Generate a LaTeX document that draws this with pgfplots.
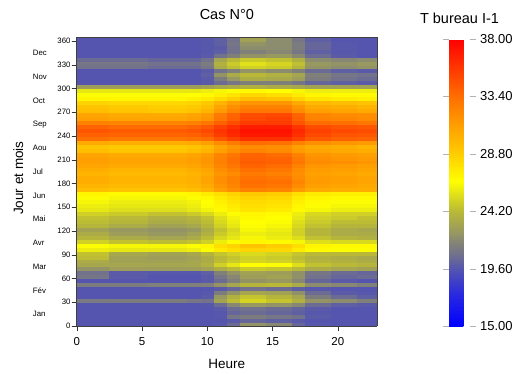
\documentclass[border=0pt]{standalone}
\usepackage{pgfplots}
\pgfplotsset{compat=1.18}
\usepackage{fontspec}
\setmainfont{Liberation Sans}
\begin{document}
\begin{tikzpicture}
\useasboundingbox (-76.7pt,-47pt) rectangle (439.3pt,326pt);
\begin{axis}[
  at={(0pt,0pt)}, anchor=south west,
  scale only axis, width=300.3pt, height=289pt,
  view={0}{90}, axis on top,
  /pgf/number format/assume math mode=true,
  xmin=0, xmax=23, ymin=0, ymax=365,
  xtick={0,5,10,15,20}, ytick={0,30,...,360},
  tick align=outside, xtick pos=left, ytick pos=left,
  major tick length=5pt,
  axis line style={black!75}, tick style={black!80},
  xticklabel style={font=\fontsize{11.5}{13}\selectfont, yshift=-3pt},
  yticklabel style={font=\fontsize{7.8}{9}\selectfont, inner sep=1pt},
  title={Cas N°0},
  title style={at={(axis description cs:0.5,1)}, anchor=base, yshift=12pt, font=\fontsize{14.5}{16}\selectfont},
  xlabel={Heure},
  xlabel style={at={(axis description cs:0.5,0)}, anchor=base, yshift=-42pt, font=\fontsize{13.5}{15}\selectfont},
  ylabel={Jour et mois},
  ylabel style={at={(axis description cs:-0.178,0.512)}, anchor=base, font=\fontsize{13.5}{15}\selectfont},
  extra y ticks={15,45,75,105,135,165,195,225,255,285,315,345},
  extra y tick labels={Jan,Fév,Mar,Avr,Mai,Jun,Jul,Aou,Sep,Oct,Nov,Dec},
  extra y tick style={tick style={draw=none}, tick label style={anchor=west, xshift=-40pt, font=\fontsize{10.5}{12}\selectfont}},
  colormap={tb}{rgb255(150)=(0,0,255) rgb255(175)=(40,40,225) rgb255(196)=(85,85,175) rgb255(206)=(110,110,145) rgb255(216)=(130,130,120) rgb255(224)=(150,150,100) rgb255(242)=(185,185,55) rgb255(256)=(225,225,25) rgb255(266)=(255,255,0) rgb255(288)=(255,205,0) rgb255(310)=(255,160,0) rgb255(334)=(255,110,0) rgb255(380)=(255,0,0)},
  point meta min=15, point meta max=38,
  colorbar,
  colorbar style={
    at={(parent axis.south east)}, anchor=south west, xshift=63.5pt,
    width=21pt, height=287pt,
    ytick={15,19.6,24.2,28.8,33.4,38},
    yticklabel={\pgfmathprintnumber[fixed,fixed zerofill,precision=2,assume math mode=true]{\tick}},
    yticklabel style={font=\fontsize{13}{15}\selectfont, xshift=0.5pt},
    axis line style={draw=none}, tick style={draw=gray!60},
    major tick length=6pt, tick align=outside,
    title={T bureau I-1},
    title style={at={(0.5,1)}, anchor=base, yshift=10pt, font=\fontsize{14.5}{16}\selectfont},
  },
]
\addplot3[surf, shader=flat corner, z buffer=none, mesh/cols=14] table[row sep=\\] {
x y z\\
0 0 19.6\\2.5 0 19.6\\5.5 0 19.6\\8.5 0 19.6\\9.5 0 19.6\\10.5 0 19.7\\11.5 0 20.5\\12.5 0 22.3\\14.5 0 21.8\\16.5 0 20.3\\17.5 0 19.7\\19.5 0 19.6\\21.5 0 19.6\\23 0 19.6\\
0 5 19.6\\2.5 5 19.6\\5.5 5 19.6\\8.5 5 19.6\\9.5 5 19.6\\10.5 5 19.6\\11.5 5 19.8\\12.5 5 20.3\\14.5 5 20.0\\16.5 5 19.8\\17.5 5 19.6\\19.5 5 19.6\\21.5 5 19.6\\23 5 19.6\\
0 10 19.6\\2.5 10 19.6\\5.5 10 19.6\\8.5 10 19.6\\9.5 10 19.6\\10.5 10 19.7\\11.5 10 21.0\\12.5 10 21.3\\14.5 10 21.0\\16.5 10 20.8\\17.5 10 19.8\\19.5 10 19.6\\21.5 10 19.6\\23 10 19.6\\
0 15 19.6\\2.5 15 19.6\\5.5 15 19.6\\8.5 15 19.6\\9.5 15 19.6\\10.5 15 19.7\\11.5 15 20.3\\12.5 15 20.5\\14.5 15 20.3\\16.5 15 20.0\\17.5 15 19.7\\19.5 15 19.6\\21.5 15 19.6\\23 15 19.6\\
0 20 19.6\\2.5 20 19.6\\5.5 20 19.6\\8.5 20 19.6\\9.5 20 19.6\\10.5 20 19.8\\11.5 20 20.5\\12.5 20 20.8\\14.5 20 20.5\\16.5 20 20.2\\17.5 20 19.8\\19.5 20 19.6\\21.5 20 19.6\\23 20 19.6\\
0 25 19.6\\2.5 25 19.6\\5.5 25 19.6\\8.5 25 19.6\\9.5 25 19.7\\10.5 25 20.5\\11.5 25 21.8\\12.5 25 22.5\\14.5 25 22.3\\16.5 25 21.8\\17.5 25 20.5\\19.5 25 20.0\\21.5 25 19.8\\23 25 19.8\\
0 30 21.2\\2.5 30 21.3\\5.5 30 21.3\\8.5 30 21.0\\9.5 30 20.8\\10.5 30 23.0\\11.5 30 24.3\\12.5 30 25.2\\14.5 30 24.6\\16.5 30 23.8\\17.5 30 22.3\\19.5 30 22.0\\21.5 30 21.5\\23 30 21.5\\
0 35 19.6\\2.5 35 19.6\\5.5 35 19.6\\8.5 35 19.6\\9.5 35 19.8\\10.5 35 22.5\\11.5 35 23.8\\12.5 35 24.6\\14.5 35 24.0\\16.5 35 23.2\\17.5 35 21.3\\19.5 35 20.5\\21.5 35 20.0\\23 35 20.0\\
0 40 19.6\\2.5 40 19.6\\5.5 40 19.6\\8.5 40 19.6\\9.5 40 19.7\\10.5 40 21.3\\11.5 40 22.3\\12.5 40 23.2\\14.5 40 23.0\\16.5 40 22.2\\17.5 40 20.5\\19.5 40 19.8\\21.5 40 19.7\\23 40 19.7\\
0 45 19.6\\2.5 45 19.6\\5.5 45 19.6\\8.5 45 19.6\\9.5 45 19.6\\10.5 45 19.8\\11.5 45 20.3\\12.5 45 20.8\\14.5 45 20.5\\16.5 45 20.0\\17.5 45 19.7\\19.5 45 19.6\\21.5 45 19.6\\23 45 19.6\\
0 50 21.3\\2.5 50 21.3\\5.5 50 21.5\\8.5 50 21.5\\9.5 50 21.5\\10.5 50 22.3\\11.5 50 23.2\\12.5 50 24.0\\14.5 50 24.2\\16.5 50 23.5\\17.5 50 22.0\\19.5 50 21.8\\21.5 50 21.5\\23 50 21.5\\
0 55 19.6\\2.5 55 19.6\\5.5 55 19.6\\8.5 55 19.6\\9.5 55 19.8\\10.5 55 20.5\\11.5 55 21.5\\12.5 55 22.3\\14.5 55 22.5\\16.5 55 21.8\\17.5 55 20.3\\19.5 55 19.8\\21.5 55 19.6\\23 55 19.6\\
0 60 21.0\\2.5 60 19.8\\5.5 60 19.6\\8.5 60 19.6\\9.5 60 19.8\\10.5 60 21.0\\11.5 60 21.8\\12.5 60 22.8\\14.5 60 23.0\\16.5 60 22.2\\17.5 60 20.8\\19.5 60 20.3\\21.5 60 20.5\\23 60 20.5\\
0 65 20.8\\2.5 65 19.8\\5.5 65 19.7\\8.5 65 19.7\\9.5 65 20.0\\10.5 65 21.5\\11.5 65 22.3\\12.5 65 23.0\\14.5 65 22.8\\16.5 65 22.2\\17.5 65 21.0\\19.5 65 20.5\\21.5 65 20.3\\23 65 20.3\\
0 70 22.3\\2.5 70 22.8\\5.5 70 22.8\\8.5 70 22.8\\9.5 70 23.0\\10.5 70 23.6\\11.5 70 24.2\\12.5 70 24.8\\14.5 70 24.6\\16.5 70 24.2\\17.5 70 23.5\\19.5 70 23.2\\21.5 70 23.0\\23 70 23.0\\
0 75 23.3\\2.5 75 23.2\\5.5 75 23.2\\8.5 75 23.3\\9.5 75 23.8\\10.5 75 25.0\\11.5 75 25.8\\12.5 75 26.6\\14.5 75 26.5\\16.5 75 25.5\\17.5 75 24.5\\19.5 75 24.2\\21.5 75 24.0\\23 75 24.0\\
0 80 23.5\\2.5 80 23.0\\5.5 80 23.0\\8.5 80 23.2\\9.5 80 23.5\\10.5 80 24.3\\11.5 80 24.8\\12.5 80 25.2\\14.5 80 25.0\\16.5 80 24.6\\17.5 80 24.0\\19.5 80 23.8\\21.5 80 23.6\\23 80 23.6\\
0 85 24.3\\2.5 85 23.0\\5.5 85 22.8\\8.5 85 23.0\\9.5 85 23.5\\10.5 85 24.2\\11.5 85 24.6\\12.5 85 25.0\\14.5 85 24.8\\16.5 85 24.3\\17.5 85 23.8\\19.5 85 23.6\\21.5 85 23.4\\23 85 23.4\\
0 90 24.5\\2.5 90 23.3\\5.5 90 23.0\\8.5 90 23.3\\9.5 90 24.0\\10.5 90 24.6\\11.5 90 25.0\\12.5 90 25.4\\14.5 90 25.1\\16.5 90 24.6\\17.5 90 24.2\\19.5 90 24.2\\21.5 90 24.2\\23 90 24.2\\
0 95 26.0\\2.5 95 25.8\\5.5 95 25.8\\8.5 95 26.0\\9.5 95 26.5\\10.5 95 27.5\\11.5 95 28.0\\12.5 95 28.5\\14.5 95 28.3\\16.5 95 27.5\\17.5 95 26.8\\19.5 95 26.5\\21.5 95 26.5\\23 95 26.5\\
0 100 26.5\\2.5 100 26.3\\5.5 100 26.3\\8.5 100 26.5\\9.5 100 27.0\\10.5 100 28.0\\11.5 100 28.5\\12.5 100 29.3\\14.5 100 28.8\\16.5 100 28.0\\17.5 100 27.0\\19.5 100 26.8\\21.5 100 26.8\\23 100 26.8\\
0 105 25.0\\2.5 105 24.5\\5.5 105 24.3\\8.5 105 24.5\\9.5 105 25.0\\10.5 105 26.0\\11.5 105 26.5\\12.5 105 27.0\\14.5 105 26.8\\16.5 105 26.3\\17.5 105 25.5\\19.5 105 25.3\\21.5 105 25.3\\23 105 25.3\\
0 110 24.0\\2.5 110 23.5\\5.5 110 23.2\\8.5 110 23.5\\9.5 110 24.3\\10.5 110 25.3\\11.5 110 25.8\\12.5 110 26.3\\14.5 110 26.0\\16.5 110 25.5\\17.5 110 24.5\\19.5 110 24.0\\21.5 110 23.8\\23 110 23.8\\
0 115 23.5\\2.5 115 22.8\\5.5 115 22.5\\8.5 115 23.0\\9.5 115 23.8\\10.5 115 24.8\\11.5 115 25.5\\12.5 115 26.0\\14.5 115 25.8\\16.5 115 25.0\\17.5 115 24.0\\19.5 115 23.5\\21.5 115 23.5\\23 115 23.5\\
0 120 23.0\\2.5 120 22.5\\5.5 120 22.3\\8.5 120 22.5\\9.5 120 23.5\\10.5 120 24.5\\11.5 120 25.3\\12.5 120 26.3\\14.5 120 26.0\\16.5 120 25.0\\17.5 120 24.0\\19.5 120 23.5\\21.5 120 23.3\\23 120 23.3\\
0 125 24.0\\2.5 125 23.5\\5.5 125 23.0\\8.5 125 23.3\\9.5 125 24.0\\10.5 125 25.0\\11.5 125 25.8\\12.5 125 26.5\\14.5 125 26.3\\16.5 125 25.3\\17.5 125 24.5\\19.5 125 24.0\\21.5 125 24.0\\23 125 24.0\\
0 130 24.3\\2.5 130 24.0\\5.5 130 23.5\\8.5 130 23.8\\9.5 130 24.3\\10.5 130 25.3\\11.5 130 26.0\\12.5 130 26.6\\14.5 130 26.5\\16.5 130 25.5\\17.5 130 24.8\\19.5 130 24.3\\21.5 130 24.3\\23 130 24.3\\
0 135 24.5\\2.5 135 24.2\\5.5 135 23.8\\8.5 135 24.0\\9.5 135 24.5\\10.5 135 25.5\\11.5 135 26.2\\12.5 135 26.8\\14.5 135 26.6\\16.5 135 25.8\\17.5 135 25.0\\19.5 135 24.8\\21.5 135 24.5\\23 135 24.5\\
0 140 25.0\\2.5 140 24.8\\5.5 140 24.5\\8.5 140 24.8\\9.5 140 25.3\\10.5 140 26.0\\11.5 140 26.5\\12.5 140 27.0\\14.5 140 26.8\\16.5 140 26.0\\17.5 140 25.3\\19.5 140 25.0\\21.5 140 25.0\\23 140 25.0\\
0 145 25.8\\2.5 145 25.5\\5.5 145 25.5\\8.5 145 25.8\\9.5 145 26.2\\10.5 145 26.8\\11.5 145 27.3\\12.5 145 27.8\\14.5 145 27.5\\16.5 145 26.8\\17.5 145 26.3\\19.5 145 26.0\\21.5 145 26.0\\23 145 26.0\\
0 150 26.0\\2.5 150 25.8\\5.5 150 25.8\\8.5 150 26.0\\9.5 150 26.5\\10.5 150 27.0\\11.5 150 27.5\\12.5 150 28.0\\14.5 150 27.8\\16.5 150 27.0\\17.5 150 26.5\\19.5 150 26.3\\21.5 150 26.3\\23 150 26.3\\
0 155 26.3\\2.5 155 26.0\\5.5 155 26.0\\8.5 155 26.2\\9.5 155 26.6\\10.5 155 27.2\\11.5 155 27.8\\12.5 155 28.2\\14.5 155 28.0\\16.5 155 27.3\\17.5 155 26.8\\19.5 155 26.5\\21.5 155 26.5\\23 155 26.5\\
0 160 26.5\\2.5 160 26.3\\5.5 160 26.3\\8.5 160 26.5\\9.5 160 26.8\\10.5 160 27.5\\11.5 160 28.0\\12.5 160 28.5\\14.5 160 28.3\\16.5 160 27.5\\17.5 160 27.0\\19.5 160 26.8\\21.5 160 26.8\\23 160 26.8\\
0 165 27.0\\2.5 165 26.8\\5.5 165 26.8\\8.5 165 27.0\\9.5 165 27.5\\10.5 165 28.0\\11.5 165 28.5\\12.5 165 29.0\\14.5 165 28.8\\16.5 165 28.0\\17.5 165 27.5\\19.5 165 27.3\\21.5 165 27.3\\23 165 27.3\\
0 170 29.5\\2.5 170 29.3\\5.5 170 29.3\\8.5 170 29.5\\9.5 170 30.0\\10.5 170 31.0\\11.5 170 31.8\\12.5 170 32.5\\14.5 170 32.3\\16.5 170 31.3\\17.5 170 30.5\\19.5 170 30.3\\21.5 170 30.3\\23 170 30.3\\
0 175 30.0\\2.5 175 29.8\\5.5 175 29.8\\8.5 175 30.0\\9.5 175 30.5\\10.5 175 31.5\\11.5 175 32.3\\12.5 175 33.2\\14.5 175 33.0\\16.5 175 32.0\\17.5 175 31.0\\19.5 175 30.8\\21.5 175 30.5\\23 175 30.5\\
0 180 30.3\\2.5 180 30.0\\5.5 180 30.0\\8.5 180 30.2\\9.5 180 30.8\\10.5 180 31.8\\11.5 180 32.5\\12.5 180 33.5\\14.5 180 33.3\\16.5 180 32.3\\17.5 180 31.3\\19.5 180 31.0\\21.5 180 30.8\\23 180 30.8\\
0 185 30.3\\2.5 185 30.0\\5.5 185 30.0\\8.5 185 30.2\\9.5 185 30.8\\10.5 185 31.8\\11.5 185 32.5\\12.5 185 33.2\\14.5 185 33.0\\16.5 185 32.0\\17.5 185 31.2\\19.5 185 31.0\\21.5 185 30.8\\23 185 30.8\\
0 190 30.0\\2.5 190 29.8\\5.5 190 29.8\\8.5 190 30.0\\9.5 190 30.5\\10.5 190 31.5\\11.5 190 32.0\\12.5 190 32.8\\14.5 190 32.5\\16.5 190 31.8\\17.5 190 31.0\\19.5 190 30.8\\21.5 190 30.5\\23 190 30.5\\
0 195 30.3\\2.5 195 30.0\\5.5 195 30.0\\8.5 195 30.3\\9.5 195 30.8\\10.5 195 31.8\\11.5 195 32.5\\12.5 195 33.3\\14.5 195 33.0\\16.5 195 32.0\\17.5 195 31.2\\19.5 195 31.0\\21.5 195 30.8\\23 195 30.8\\
0 200 30.8\\2.5 200 30.5\\5.5 200 30.5\\8.5 200 30.8\\9.5 200 31.3\\10.5 200 32.3\\11.5 200 33.0\\12.5 200 33.8\\14.5 200 33.5\\16.5 200 32.5\\17.5 200 31.5\\19.5 200 31.3\\21.5 200 31.0\\23 200 31.0\\
0 205 31.0\\2.5 205 30.8\\5.5 205 30.8\\8.5 205 31.0\\9.5 205 31.5\\10.5 205 32.5\\11.5 205 33.3\\12.5 205 34.2\\14.5 205 34.0\\16.5 205 33.0\\17.5 205 32.0\\19.5 205 31.8\\21.5 205 31.5\\23 205 31.5\\
0 210 31.0\\2.5 210 30.8\\5.5 210 30.8\\8.5 210 31.0\\9.5 210 31.5\\10.5 210 32.5\\11.5 210 33.3\\12.5 210 34.0\\14.5 210 33.8\\16.5 210 32.8\\17.5 210 31.8\\19.5 210 31.5\\21.5 210 31.3\\23 210 31.3\\
0 215 30.8\\2.5 215 30.5\\5.5 215 30.5\\8.5 215 30.8\\9.5 215 31.3\\10.5 215 32.3\\11.5 215 33.0\\12.5 215 33.8\\14.5 215 33.5\\16.5 215 32.5\\17.5 215 31.5\\19.5 215 31.3\\21.5 215 31.0\\23 215 31.0\\
0 220 29.5\\2.5 220 29.2\\5.5 220 29.2\\8.5 220 29.5\\9.5 220 30.0\\10.5 220 31.0\\11.5 220 31.8\\12.5 220 32.3\\14.5 220 32.0\\16.5 220 31.3\\17.5 220 30.8\\19.5 220 30.5\\21.5 220 30.3\\23 220 30.3\\
0 225 29.3\\2.5 225 29.0\\5.5 225 29.0\\8.5 225 29.3\\9.5 225 29.8\\10.5 225 30.8\\11.5 225 31.5\\12.5 225 32.0\\14.5 225 31.8\\16.5 225 31.0\\17.5 225 30.5\\19.5 225 30.3\\21.5 225 30.0\\23 225 30.0\\
0 230 30.5\\2.5 230 30.3\\5.5 230 30.3\\8.5 230 30.5\\9.5 230 31.0\\10.5 230 32.0\\11.5 230 32.8\\12.5 230 33.5\\14.5 230 33.3\\16.5 230 32.5\\17.5 230 31.8\\19.5 230 31.5\\21.5 230 31.3\\23 230 31.3\\
0 235 33.3\\2.5 235 33.0\\5.5 235 33.0\\8.5 235 33.2\\9.5 235 33.5\\10.5 235 34.5\\11.5 235 35.3\\12.5 235 36.0\\14.5 235 36.0\\16.5 235 35.3\\17.5 235 34.3\\19.5 235 34.0\\21.5 235 33.8\\23 235 33.8\\
0 240 34.0\\2.5 240 33.8\\5.5 240 33.8\\8.5 240 34.0\\9.5 240 34.5\\10.5 240 35.5\\11.5 240 36.3\\12.5 240 37.0\\14.5 240 37.0\\16.5 240 36.0\\17.5 240 35.0\\19.5 240 34.5\\21.5 240 34.3\\23 240 34.3\\
0 245 34.5\\2.5 245 34.2\\5.5 245 34.2\\8.5 245 34.5\\9.5 245 35.0\\10.5 245 35.8\\11.5 245 36.5\\12.5 245 37.3\\14.5 245 37.2\\16.5 245 36.3\\17.5 245 35.3\\19.5 245 35.0\\21.5 245 34.8\\23 245 34.8\\
0 250 33.8\\2.5 250 33.5\\5.5 250 33.5\\8.5 250 33.8\\9.5 250 34.3\\10.5 250 35.3\\11.5 250 36.0\\12.5 250 36.8\\14.5 250 36.8\\16.5 250 35.8\\17.5 250 34.8\\19.5 250 34.5\\21.5 250 34.3\\23 250 34.3\\
0 255 32.5\\2.5 255 32.3\\5.5 255 32.3\\8.5 255 32.5\\9.5 255 33.0\\10.5 255 34.0\\11.5 255 34.8\\12.5 255 35.5\\14.5 255 35.5\\16.5 255 34.5\\17.5 255 33.5\\19.5 255 33.3\\21.5 255 33.0\\23 255 33.0\\
0 260 31.0\\2.5 260 30.8\\5.5 260 30.8\\8.5 260 31.0\\9.5 260 31.5\\10.5 260 33.0\\11.5 260 34.0\\12.5 260 35.0\\14.5 260 35.3\\16.5 260 34.0\\17.5 260 32.5\\19.5 260 32.3\\21.5 260 32.0\\23 260 32.0\\
0 265 30.8\\2.5 265 30.5\\5.5 265 30.5\\8.5 265 30.8\\9.5 265 31.3\\10.5 265 32.8\\11.5 265 33.8\\12.5 265 34.8\\14.5 265 35.0\\16.5 265 33.8\\17.5 265 32.3\\19.5 265 32.0\\21.5 265 31.8\\23 265 31.8\\
0 270 29.5\\2.5 270 29.2\\5.5 270 29.0\\8.5 270 29.3\\9.5 270 30.0\\10.5 270 31.3\\11.5 270 32.3\\12.5 270 33.0\\14.5 270 33.0\\16.5 270 32.0\\17.5 270 31.0\\19.5 270 30.8\\21.5 270 30.5\\23 270 30.5\\
0 275 29.3\\2.5 275 29.0\\5.5 275 28.8\\8.5 275 29.0\\9.5 275 29.5\\10.5 275 30.8\\11.5 275 31.8\\12.5 275 32.5\\14.5 275 32.5\\16.5 275 31.5\\17.5 275 30.5\\19.5 275 30.3\\21.5 275 30.0\\23 275 30.0\\
0 280 28.5\\2.5 280 28.3\\5.5 280 28.3\\8.5 280 28.5\\9.5 280 29.0\\10.5 280 30.0\\11.5 280 31.0\\12.5 280 31.5\\14.5 280 31.5\\16.5 280 30.5\\17.5 280 29.8\\19.5 280 29.5\\21.5 280 29.3\\23 280 29.3\\
0 285 27.0\\2.5 285 27.0\\5.5 285 27.0\\8.5 285 27.2\\9.5 285 27.5\\10.5 285 28.2\\11.5 285 28.8\\12.5 285 29.5\\14.5 285 29.3\\16.5 285 28.5\\17.5 285 27.8\\19.5 285 27.5\\21.5 285 27.3\\23 285 27.3\\
0 290 26.5\\2.5 290 26.5\\5.5 290 26.5\\8.5 290 26.6\\9.5 290 26.8\\10.5 290 27.3\\11.5 290 27.8\\12.5 290 28.3\\14.5 290 28.0\\16.5 290 27.5\\17.5 290 27.0\\19.5 290 26.8\\21.5 290 26.8\\23 290 26.8\\
0 295 25.8\\2.5 295 25.8\\5.5 295 25.8\\8.5 295 25.8\\9.5 295 26.0\\10.5 295 26.3\\11.5 295 26.5\\12.5 295 26.8\\14.5 295 26.6\\16.5 295 26.3\\17.5 295 26.0\\19.5 295 26.0\\21.5 295 26.0\\23 295 26.0\\
0 300 22.8\\2.5 300 22.8\\5.5 300 22.8\\8.5 300 22.8\\9.5 300 23.0\\10.5 300 23.3\\11.5 300 23.5\\12.5 300 23.8\\14.5 300 23.5\\16.5 300 23.3\\17.5 300 23.0\\19.5 300 23.0\\21.5 300 23.0\\23 300 23.0\\
0 305 19.6\\2.5 305 19.6\\5.5 305 19.6\\8.5 305 19.6\\9.5 305 19.8\\10.5 305 20.5\\11.5 305 21.0\\12.5 305 21.5\\14.5 305 21.5\\16.5 305 21.0\\17.5 305 20.3\\19.5 305 20.0\\21.5 305 19.8\\23 305 19.8\\
0 310 19.6\\2.5 310 19.6\\5.5 310 19.6\\8.5 310 19.6\\9.5 310 19.8\\10.5 310 21.3\\11.5 310 22.5\\12.5 310 23.6\\14.5 310 23.4\\16.5 310 22.8\\17.5 310 21.3\\19.5 310 20.8\\21.5 310 20.5\\23 310 20.5\\
0 315 19.6\\2.5 315 19.6\\5.5 315 19.6\\8.5 315 19.6\\9.5 315 20.0\\10.5 315 22.3\\11.5 315 23.5\\12.5 315 24.2\\14.5 315 23.8\\16.5 315 23.2\\17.5 315 21.5\\19.5 315 21.0\\21.5 315 20.8\\23 315 20.8\\
0 320 19.6\\2.5 320 19.6\\5.5 320 19.6\\8.5 320 19.6\\9.5 320 19.8\\10.5 320 20.8\\11.5 320 21.5\\12.5 320 22.3\\14.5 320 22.0\\16.5 320 21.5\\17.5 320 20.5\\19.5 320 20.0\\21.5 320 19.8\\23 320 19.8\\
0 325 20.8\\2.5 325 20.8\\5.5 325 20.5\\8.5 325 20.5\\9.5 325 21.0\\10.5 325 23.5\\11.5 325 24.4\\12.5 325 25.0\\14.5 325 24.8\\16.5 325 24.0\\17.5 325 22.3\\19.5 325 22.0\\21.5 325 22.3\\23 325 22.3\\
0 330 21.0\\2.5 330 21.0\\5.5 330 20.8\\8.5 330 20.8\\9.5 330 21.3\\10.5 330 23.8\\11.5 330 24.8\\12.5 330 25.6\\14.5 330 25.2\\16.5 330 24.4\\17.5 330 22.5\\19.5 330 22.3\\21.5 330 22.5\\23 330 22.5\\
0 335 20.5\\2.5 335 20.5\\5.5 335 20.3\\8.5 335 20.3\\9.5 335 20.8\\10.5 335 23.2\\11.5 335 24.2\\12.5 335 24.8\\14.5 335 24.5\\16.5 335 23.8\\17.5 335 22.0\\19.5 335 21.8\\21.5 335 22.0\\23 335 22.0\\
0 340 19.6\\2.5 340 19.6\\5.5 340 19.6\\8.5 340 19.6\\9.5 340 19.8\\10.5 340 20.8\\11.5 340 21.5\\12.5 340 22.3\\14.5 340 22.5\\16.5 340 21.8\\17.5 340 20.5\\19.5 340 19.8\\21.5 340 19.6\\23 340 19.6\\
0 345 19.6\\2.5 345 19.6\\5.5 345 19.6\\8.5 345 19.6\\9.5 345 19.7\\10.5 345 20.0\\11.5 345 20.8\\12.5 345 21.5\\14.5 345 21.8\\16.5 345 21.0\\17.5 345 20.0\\19.5 345 19.7\\21.5 345 19.6\\23 345 19.6\\
0 350 19.6\\2.5 350 19.6\\5.5 350 19.6\\8.5 350 19.6\\9.5 350 19.7\\10.5 350 19.8\\11.5 350 20.8\\12.5 350 22.0\\14.5 350 22.0\\16.5 350 21.3\\17.5 350 20.3\\19.5 350 19.7\\21.5 350 19.6\\23 350 19.6\\
0 355 19.6\\2.5 355 19.6\\5.5 355 19.6\\8.5 355 19.6\\9.5 355 19.7\\10.5 355 20.0\\11.5 355 21.0\\12.5 355 22.3\\14.5 355 22.0\\16.5 355 21.3\\17.5 355 20.3\\19.5 355 19.7\\21.5 355 19.6\\23 355 19.6\\
0 360 19.6\\2.5 360 19.6\\5.5 360 19.6\\8.5 360 19.6\\9.5 360 19.7\\10.5 360 20.0\\11.5 360 20.8\\12.5 360 23.0\\14.5 360 22.0\\16.5 360 21.0\\17.5 360 20.0\\19.5 360 19.6\\21.5 360 19.6\\23 360 19.6\\
0 365 19.6\\2.5 365 19.6\\5.5 365 19.6\\8.5 365 19.6\\9.5 365 19.7\\10.5 365 20.0\\11.5 365 20.8\\12.5 365 23.0\\14.5 365 22.0\\16.5 365 21.0\\17.5 365 20.0\\19.5 365 19.6\\21.5 365 19.6\\23 365 19.6\\
};
\end{axis}
\end{tikzpicture}
\end{document}
